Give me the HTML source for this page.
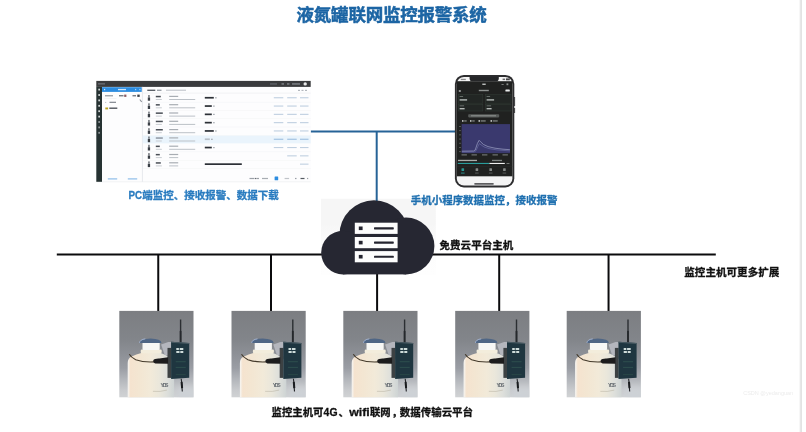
<!DOCTYPE html>
<html lang="zh-CN">
<head>
<meta charset="utf-8">
<title>液氮罐联网监控报警系统</title>
<style>
  html, body { margin: 0; padding: 0; background: #ffffff; }
  body { width: 806px; height: 432px; overflow: hidden; position: relative;
         font-family: "Liberation Sans", "Noto Sans CJK SC", sans-serif; }
  svg { position: absolute; left: 0; top: 0; display: block; }
  svg text { font-family: "Liberation Sans", "Noto Sans CJK SC", sans-serif; font-weight: bold; }
  svg .lbl { stroke-width: 0.3px; stroke-linejoin: round; }
  svg { filter: blur(0.35px); }
</style>
</head>
<body>
<svg width="806" height="432" viewBox="0 0 806 432">
  <defs>
    <linearGradient id="tankbg" x1="0" y1="0" x2="0" y2="1">
      <stop offset="0" stop-color="#7c7e82"/>
      <stop offset="0.33" stop-color="#82858a"/>
      <stop offset="0.51" stop-color="#8e9197"/>
      <stop offset="0.66" stop-color="#9a9da4"/>
      <stop offset="0.8" stop-color="#b4b7bc"/>
      <stop offset="0.915" stop-color="#c8cacd"/>
      <stop offset="1" stop-color="#d0d2d4"/>
    </linearGradient>
    <filter id="soft" x="-50%" y="-50%" width="200%" height="200%"><feGaussianBlur stdDeviation="3.2"/></filter>
    <clipPath id="tankclip"><rect x="0" y="0" width="74.2" height="86.4"/></clipPath>
    <linearGradient id="tankbody" x1="0" y1="0" x2="1" y2="0">
      <stop offset="0" stop-color="#f6f6f4"/>
      <stop offset="0.06" stop-color="#f5e3cf"/>
      <stop offset="0.25" stop-color="#f3e6d2"/>
      <stop offset="0.5" stop-color="#f2ead9"/>
      <stop offset="0.68" stop-color="#eae7db"/>
      <stop offset="0.85" stop-color="#dddfdb"/>
      <stop offset="1" stop-color="#ced4d4"/>
    </linearGradient>
    <linearGradient id="boxfade" x1="0" y1="0" x2="0" y2="1">
      <stop offset="0" stop-color="#f6f6f6"/>
      <stop offset="0.33" stop-color="#f6f6f6"/>
      <stop offset="0.58" stop-color="#fcfcfc"/>
      <stop offset="1" stop-color="#fefefe"/>
    </linearGradient>
    <linearGradient id="edgefade" x1="0" y1="0" x2="1" y2="0">
      <stop offset="0" stop-color="#ffffff"/>
      <stop offset="1" stop-color="#ececec"/>
    </linearGradient>
    <!-- liquid nitrogen tank with monitor host -->
    <g id="tank">
      <rect x="0" y="0" width="74.2" height="86.4" fill="url(#tankbg)"/>
      <g clip-path="url(#tankclip)">
        <g filter="url(#soft)" fill="#cdd1d6">
          <rect x="58" y="76" width="20" height="16"/>
        </g>
      </g>
      <!-- body -->
      <path d="M8.4 86.4 L8.4 52 Q8.4 47.4 12.4 45.6 Q17 43.4 22 42 L41.4 42 Q46 43.6 49.4 46 Q54.8 49.4 54.8 54.5 L54.8 86.4 Z" fill="url(#tankbody)"/>
      <path d="M33.6 80.4 Q41 81.2 47.6 79.2" fill="none" stroke="#b3ad9c" stroke-width="0.5"/>
      <!-- collar, cap, dome -->
      <rect x="21.4" y="38.6" width="21" height="3.8" rx="1.2" fill="#f3eddc"/>
      <rect x="23.2" y="31.2" width="17.2" height="8" rx="1" fill="#f7f7f5"/>
      <path d="M20.2 32 Q20.6 27.9 31.2 27.6 Q41.8 27.9 42.2 32 Z" fill="#4f6685"/>
      <path d="M20.2 32 Q20.7 28.6 26 28" fill="none" stroke="#a9bde0" stroke-width="0.8"/>
      <!-- bracket plate -->
      <path d="M41.8 33.6 L49 31.2 L52 31.2 L52 45 L45.4 44 Z" fill="#b4b6bd"/>
      <rect x="48.2" y="37" width="3.8" height="30" fill="#3c4143"/>
      <!-- handle + clamp -->
      <path d="M10 43.4 Q11.6 46.4 16.4 48.8 Q24 51.6 35 51" fill="none" stroke="#43392a" stroke-width="1.1"/>
      <path d="M34 49.4 Q35 47.4 40 47.6 L48.8 46.4 L48.8 52.9 L36 52.6 Q33.6 52 34 49.4 Z" fill="#1c1c1d"/>
      <!-- antenna -->
      <rect x="60.6" y="8.6" width="1.4" height="23" fill="#2b2e32"/>
      <rect x="60.4" y="20" width="1.8" height="11.5" fill="#25282c"/>
      <!-- monitor host -->
      <path d="M51.8 30.9 L69.9 32.2 L69.9 66.9 L51.8 68.2 Z" fill="#1f3640"/>
      <path d="M51.8 30.9 L69.9 32.2 L69.9 33 L51.8 31.8 Z" fill="#4b5c64"/>
      <path d="M57 37.2 h2.6 v2 h-2.6 z M60.4 37.2 h3.6 v2 h-3.6 z M57 40 h3.2 v2 h-3.2 z M61 40 h3 v2 h-3 z" fill="#cfdcda"/>
      <rect x="56.4" y="50.4" width="10" height="0.9" fill="#2f524f"/>
      <rect x="56.4" y="56" width="10" height="0.9" fill="#2f524f"/>
      <rect x="56.4" y="63.4" width="10" height="0.8" fill="#2b4a48"/>
      <!-- cable -->
      <path d="M61.9 67.8 L62.3 71 L63 80.6" fill="none" stroke="#222428" stroke-width="1.1"/>
      <path d="M62.3 71 L62.8 77.2" fill="none" stroke="#1a1c1f" stroke-width="2"/>
    </g>
  </defs>

  <rect x="0" y="0" width="806" height="432" fill="#ffffff"/>

  <!-- right page edge -->
  <rect x="798.6" y="0" width="2.2" height="432" fill="url(#edgefade)"/>
  <rect x="800.5" y="0" width="1.3" height="432" fill="#dcdcdc"/>

  <!-- pale backing of cloud picture -->
  <rect x="321" y="198.8" width="114.8" height="76.2" fill="url(#boxfade)"/>

  <!-- title -->
  <text x="391.6" y="21.2" font-size="17.5" text-anchor="middle" fill="#1c65a4" stroke="#1c65a4" stroke-width="0.5" letter-spacing="-0.22">液氮罐联网监控报警系统</text>

  <!-- blue connectors -->
  <g stroke="#266397" stroke-width="2" fill="none">
    <line x1="310.6" y1="131.4" x2="456" y2="131.4"/>
    <line x1="376.7" y1="131.2" x2="376.7" y2="203"/>
  </g>

  <!-- PC screenshot -->
  <g id="pc">
    <rect x="96.3" y="80.9" width="214.4" height="100.9" fill="#fdfdfe"/>
    <rect x="96.3" y="181.6" width="214.4" height="0.6" fill="#e9ebee"/>
    <rect x="96.3" y="80.9" width="214.4" height="6.0" fill="#3a3b3d"/>
    <rect x="96.3" y="86.9" width="5.7" height="94.9" fill="#263232"/>
    <rect x="98.0" y="83.2" width="7.0" height="1.3" fill="#6d7177"/>
    <rect x="281.5" y="83.3" width="2.5" height="1.3" fill="#84888d"/>
    <rect x="287.0" y="83.3" width="2.5" height="1.3" fill="#84888d"/>
    <rect x="292.0" y="83.3" width="8.0" height="1.3" fill="#84888d"/>
    <rect x="270.0" y="83.3" width="7.0" height="1.3" fill="#5f6369"/>
    <circle cx="305.2" cy="83.9" r="1.7" fill="#e8e8e8"/>
    <rect x="98.3" y="88.7" width="1.7" height="1.8" fill="#d2d6d6"/>
    <rect x="98.3" y="94.1" width="1.7" height="1.8" fill="#d2d6d6"/>
    <rect x="98.3" y="99.5" width="1.7" height="1.8" fill="#d2d6d6"/>
    <rect x="98.3" y="104.9" width="1.7" height="1.8" fill="#d2d6d6"/>
    <rect x="98.3" y="110.3" width="1.7" height="1.8" fill="#d2d6d6"/>
    <rect x="98.3" y="115.7" width="1.7" height="1.8" fill="#d2d6d6"/>
    <rect x="98.3" y="121.1" width="1.7" height="1.8" fill="#8f9698"/>
    <rect x="98.3" y="126.5" width="1.7" height="1.8" fill="#8f9698"/>
    <rect x="98.3" y="131.9" width="1.7" height="1.8" fill="#8f9698"/>
    <rect x="102.0" y="87.2" width="39.8" height="4.7" fill="#2b8ce0"/>
    <rect x="118.0" y="88.9" width="8.0" height="1.3" fill="#cfe6fa"/>
    <rect x="104.0" y="88.9" width="1.2" height="1.3" fill="#cfe6fa"/>
    <rect x="135.0" y="88.9" width="1.2" height="1.3" fill="#a9d2f6"/>
    <rect x="139.3" y="88.9" width="1.2" height="1.3" fill="#a9d2f6"/>
    <rect x="141.9" y="86.9" width="0.9" height="94.9" fill="#e4e7eb"/>
    <rect x="105.0" y="95.1" width="8.0" height="1.3" fill="#9a9fa6"/>
    <rect x="119.0" y="95.1" width="4.5" height="1.3" fill="#6c7178"/>
    <rect x="124.2" y="94.6" width="2.2" height="2.3" fill="#8a5a62"/>
    <rect x="132.5" y="95.1" width="3.5" height="1.3" fill="#6c7178"/>
    <rect x="137.3" y="94.6" width="2.4" height="2.3" fill="#3a3f47"/>
    <rect x="104.5" y="98.6" width="12.0" height="0.4" fill="#e3e6ea"/>
    <rect x="109.5" y="101.7" width="6.5" height="1.3" fill="#8b9097"/>
    <rect x="105.2" y="101.9" width="1.0" height="1.0" fill="#b3b8be"/>
    <rect x="105.3" y="107.5" width="2.8" height="1.9" fill="#b9a21f"/>
    <rect x="109.3" y="107.5" width="8.0" height="1.4" fill="#50555c"/>
    <rect x="140.2" y="99.2" width="1.1" height="3.0" fill="#8b9097" transform="rotate(-40 140.7 100.7)"/>
    <rect x="107.8" y="178.3" width="9.4" height="1.2" fill="#8dbde9"/>
    <rect x="127.8" y="178.3" width="9.4" height="1.2" fill="#8dbde9"/>
    <rect x="147.3" y="89.6" width="8.0" height="1.4" fill="#5b6067"/>
    <rect x="157.0" y="89.6" width="4.5" height="1.4" fill="#9aa0a7"/>
    <rect x="166.0" y="89.6" width="20.0" height="1.3" fill="#c9cdd2"/>
    <rect x="143.0" y="92.8" width="167.7" height="0.5" fill="#e6e8eb"/>
    <rect x="298.0" y="89.8" width="2.0" height="1.2" fill="#b3b8be"/>
    <rect x="301.5" y="89.8" width="2.0" height="1.2" fill="#b3b8be"/>
    <rect x="305.0" y="89.8" width="2.0" height="1.2" fill="#b3b8be"/>
    <rect x="143.0" y="101.9" width="167.7" height="0.4" fill="#eff1f3"/>
    <rect x="148.2" y="95.0" width="1.5" height="2.2" fill="#6b7077"/>
    <rect x="147.8" y="97.4" width="2.3" height="3.3" fill="#3a3f46"/>
    <rect x="155.8" y="95.8" width="5.0" height="1.5" fill="#4a4f56"/>
    <rect x="155.8" y="99.0" width="6.0" height="1.0" fill="#c8ccd1"/>
    <rect x="169.2" y="95.8" width="9.0" height="1.2" fill="#a8adb3"/>
    <rect x="169.2" y="99.0" width="26.0" height="1.0" fill="#bcc1c7"/>
    <rect x="204.8" y="96.9" width="9.0" height="1.7" fill="#2c3036"/>
    <rect x="215.2" y="97.2" width="1.4" height="1.2" fill="#9aa0a7"/>
    <rect x="273.8" y="97.2" width="9.5" height="1.1" fill="#bfcfe0"/>
    <rect x="287.2" y="97.2" width="9.5" height="1.1" fill="#bfcfe0"/>
    <rect x="300.0" y="97.2" width="8.5" height="1.1" fill="#bfcfe0"/>
    <rect x="143.0" y="110.2" width="167.7" height="0.4" fill="#eff1f3"/>
    <rect x="148.2" y="103.3" width="1.5" height="2.2" fill="#6b7077"/>
    <rect x="147.8" y="105.7" width="2.3" height="3.3" fill="#3a3f46"/>
    <rect x="155.8" y="104.1" width="4.0" height="1.5" fill="#4a4f56"/>
    <rect x="155.8" y="107.3" width="6.0" height="1.0" fill="#c8ccd1"/>
    <rect x="169.2" y="104.1" width="9.0" height="1.2" fill="#a8adb3"/>
    <rect x="169.2" y="107.3" width="26.0" height="1.0" fill="#bcc1c7"/>
    <rect x="204.8" y="105.2" width="7.0" height="1.7" fill="#2c3036"/>
    <rect x="213.2" y="105.5" width="1.4" height="1.2" fill="#9aa0a7"/>
    <rect x="273.8" y="105.5" width="9.5" height="1.1" fill="#bfcfe0"/>
    <rect x="287.2" y="105.5" width="9.5" height="1.1" fill="#bfcfe0"/>
    <rect x="300.0" y="105.5" width="8.5" height="1.1" fill="#bfcfe0"/>
    <rect x="143.0" y="118.5" width="167.7" height="0.4" fill="#eff1f3"/>
    <rect x="148.2" y="111.6" width="1.5" height="2.2" fill="#6b7077"/>
    <rect x="147.8" y="114.0" width="2.3" height="3.3" fill="#3a3f46"/>
    <rect x="155.8" y="112.4" width="7.0" height="1.5" fill="#4a4f56"/>
    <rect x="155.8" y="115.6" width="6.0" height="1.0" fill="#c8ccd1"/>
    <rect x="169.2" y="112.4" width="9.0" height="1.2" fill="#a8adb3"/>
    <rect x="169.2" y="115.6" width="26.0" height="1.0" fill="#bcc1c7"/>
    <rect x="204.8" y="113.5" width="7.0" height="1.7" fill="#2c3036"/>
    <rect x="213.2" y="113.8" width="1.4" height="1.2" fill="#9aa0a7"/>
    <rect x="273.8" y="113.8" width="9.5" height="1.1" fill="#bfcfe0"/>
    <rect x="287.2" y="113.8" width="9.5" height="1.1" fill="#bfcfe0"/>
    <rect x="300.0" y="113.8" width="8.5" height="1.1" fill="#bfcfe0"/>
    <rect x="143.0" y="126.8" width="167.7" height="0.4" fill="#eff1f3"/>
    <rect x="148.2" y="119.9" width="1.5" height="2.2" fill="#6b7077"/>
    <rect x="147.8" y="122.3" width="2.3" height="3.3" fill="#3a3f46"/>
    <rect x="155.8" y="120.7" width="7.0" height="1.5" fill="#4a4f56"/>
    <rect x="155.8" y="123.9" width="6.0" height="1.0" fill="#c8ccd1"/>
    <rect x="169.2" y="120.7" width="9.0" height="1.2" fill="#a8adb3"/>
    <rect x="169.2" y="123.9" width="26.0" height="1.0" fill="#bcc1c7"/>
    <rect x="204.8" y="121.8" width="7.0" height="1.7" fill="#2c3036"/>
    <rect x="213.2" y="122.1" width="1.4" height="1.2" fill="#9aa0a7"/>
    <rect x="273.8" y="122.1" width="9.5" height="1.1" fill="#bfcfe0"/>
    <rect x="287.2" y="122.1" width="9.5" height="1.1" fill="#bfcfe0"/>
    <rect x="300.0" y="122.1" width="8.5" height="1.1" fill="#bfcfe0"/>
    <rect x="143.0" y="135.1" width="167.7" height="0.4" fill="#eff1f3"/>
    <rect x="148.2" y="128.2" width="1.5" height="2.2" fill="#6b7077"/>
    <rect x="147.8" y="130.6" width="2.3" height="3.3" fill="#3a3f46"/>
    <rect x="155.8" y="129.0" width="7.0" height="1.5" fill="#4a4f56"/>
    <rect x="155.8" y="132.2" width="6.0" height="1.0" fill="#c8ccd1"/>
    <rect x="169.2" y="129.0" width="9.0" height="1.2" fill="#a8adb3"/>
    <rect x="169.2" y="132.2" width="26.0" height="1.0" fill="#bcc1c7"/>
    <rect x="204.8" y="130.1" width="9.0" height="1.7" fill="#2c3036"/>
    <rect x="215.2" y="130.4" width="1.4" height="1.2" fill="#9aa0a7"/>
    <rect x="273.8" y="130.4" width="9.5" height="1.1" fill="#bfcfe0"/>
    <rect x="287.2" y="130.4" width="9.5" height="1.1" fill="#bfcfe0"/>
    <rect x="300.0" y="130.4" width="8.5" height="1.1" fill="#bfcfe0"/>
    <rect x="142.8" y="135.6" width="167.9" height="7.8" fill="#eaf4fc"/>
    <rect x="148.2" y="136.5" width="1.5" height="2.2" fill="#6b7077"/>
    <rect x="147.8" y="138.9" width="2.3" height="3.3" fill="#3a3f46"/>
    <rect x="155.8" y="137.3" width="7.0" height="1.5" fill="#8f98a3"/>
    <rect x="155.8" y="140.5" width="6.0" height="1.0" fill="#c8ccd1"/>
    <rect x="169.2" y="137.3" width="9.0" height="1.2" fill="#a8adb3"/>
    <rect x="169.2" y="140.5" width="26.0" height="1.0" fill="#bcc1c7"/>
    <rect x="204.8" y="138.4" width="5.0" height="1.7" fill="#b9c0c8"/>
    <rect x="211.2" y="138.7" width="1.4" height="1.2" fill="#9aa0a7"/>
    <rect x="273.8" y="138.7" width="9.5" height="1.1" fill="#9dbfdf"/>
    <rect x="287.2" y="138.7" width="9.5" height="1.1" fill="#9dbfdf"/>
    <rect x="300.0" y="138.7" width="8.5" height="1.1" fill="#9dbfdf"/>
    <rect x="143.0" y="151.7" width="167.7" height="0.4" fill="#eff1f3"/>
    <rect x="148.2" y="144.8" width="1.5" height="2.2" fill="#6b7077"/>
    <rect x="147.8" y="147.2" width="2.3" height="3.3" fill="#3a3f46"/>
    <rect x="155.8" y="145.6" width="4.0" height="1.5" fill="#4a4f56"/>
    <rect x="155.8" y="148.8" width="6.0" height="1.0" fill="#c8ccd1"/>
    <rect x="169.2" y="145.6" width="9.0" height="1.2" fill="#a8adb3"/>
    <rect x="169.2" y="148.8" width="26.0" height="1.0" fill="#bcc1c7"/>
    <rect x="204.8" y="146.7" width="7.0" height="1.7" fill="#2c3036"/>
    <rect x="213.2" y="147.0" width="1.4" height="1.2" fill="#9aa0a7"/>
    <rect x="273.8" y="147.0" width="9.5" height="1.1" fill="#bfcfe0"/>
    <rect x="287.2" y="147.0" width="9.5" height="1.1" fill="#bfcfe0"/>
    <rect x="300.0" y="147.0" width="8.5" height="1.1" fill="#bfcfe0"/>
    <rect x="143.0" y="160.0" width="167.7" height="0.4" fill="#eff1f3"/>
    <rect x="148.2" y="153.1" width="1.5" height="2.2" fill="#6b7077"/>
    <rect x="147.8" y="155.5" width="2.3" height="3.3" fill="#3a3f46"/>
    <rect x="155.8" y="153.9" width="4.0" height="1.5" fill="#4a4f56"/>
    <rect x="155.8" y="157.1" width="6.0" height="1.0" fill="#c8ccd1"/>
    <rect x="169.2" y="153.9" width="9.0" height="1.2" fill="#a8adb3"/>
    <rect x="169.2" y="157.1" width="9.0" height="1.0" fill="#bcc1c7"/>
    <rect x="287.2" y="155.3" width="9.5" height="1.1" fill="#bfcfe0"/>
    <rect x="300.0" y="155.3" width="8.5" height="1.1" fill="#bfcfe0"/>
    <rect x="143.0" y="168.3" width="167.7" height="0.4" fill="#eff1f3"/>
    <rect x="148.2" y="161.4" width="1.5" height="2.2" fill="#6b7077"/>
    <rect x="147.8" y="163.8" width="2.3" height="3.3" fill="#3a3f46"/>
    <rect x="155.8" y="162.2" width="5.0" height="1.5" fill="#4a4f56"/>
    <rect x="155.8" y="165.4" width="6.0" height="1.0" fill="#c8ccd1"/>
    <rect x="169.2" y="162.2" width="9.0" height="1.2" fill="#a8adb3"/>
    <rect x="169.2" y="165.4" width="9.0" height="1.0" fill="#bcc1c7"/>
    <rect x="204.8" y="163.3" width="37.0" height="1.7" fill="#2c3036"/>
    <rect x="300.0" y="163.6" width="8.5" height="1.1" fill="#bfcfe0"/>
    <rect x="249.5" y="177.9" width="5.0" height="1.2" fill="#9aa0a7"/>
    <rect x="255.2" y="177.9" width="1.2" height="1.2" fill="#444950"/>
    <rect x="257.0" y="177.9" width="2.0" height="1.2" fill="#9aa0a7"/>
    <rect x="262.0" y="177.9" width="6.0" height="1.2" fill="#a8adb3"/>
    <rect x="284.6" y="177.9" width="4.5" height="1.2" fill="#c0c4c9"/>
    <rect x="295.0" y="177.9" width="1.5" height="1.2" fill="#9aa0a7"/>
    <rect x="300.5" y="177.9" width="4.0" height="1.2" fill="#555a61"/>
    <rect x="307.0" y="177.9" width="1.2" height="1.2" fill="#9aa0a7"/>
    <rect x="274.6" y="176.5" width="3.6" height="3.8" fill="#2d8de0" rx="0.6"/>
  </g>
  <text y="199.3" class="lbl" font-size="10" fill="#2a7cc0" stroke="#2a7cc0"><tspan x="128.6" font-size="10.8" textLength="13.6" lengthAdjust="spacingAndGlyphs">PC</tspan><tspan x="142.3" textLength="136.4" lengthAdjust="spacingAndGlyphs">端监控、接收报警、数据下载</tspan></text>

  <!-- phone -->
  <g id="phone">
    <rect x="454.9" y="74.9" width="59.4" height="112.6" rx="9" ry="9" fill="#2d2d2f"/>
    <rect x="514.1" y="97" width="1.0" height="9" fill="#3a3a3c"/>
    <rect x="514.1" y="108" width="1.0" height="5" fill="#3a3a3c"/>
    <rect x="456.8" y="76.9" width="55.6" height="108.7" rx="7.2" ry="7.2" fill="#f4f4f4"/>
    <rect x="456.8" y="81.2" width="55.6" height="95.1" fill="#202120"/>
    <path d="M469.6 76.8 L498.8 76.8 L498.8 78.4 Q498.8 81.3 495.6 81.3 L472.8 81.3 Q469.6 81.3 469.6 78.4 Z" fill="#262729"/>
    <rect x="460.8" y="78.8" width="5.0" height="1.3" fill="#8a8a8c"/>
    <rect x="502.6" y="78.6" width="2.5" height="1.5" fill="#6a6a6c"/>
    <rect x="506.0" y="78.4" width="3.8" height="1.9" fill="#454547"/>
    <rect x="482.3" y="83.6" width="3.4" height="1.3" fill="#c9cccb"/>
    <rect x="501.5" y="84.0" width="2.2" height="0.8" fill="#8d918f"/>
    <rect x="506.5" y="83.4" width="1.8" height="1.8" fill="#8d918f"/>
    <rect x="458.8" y="90.2" width="2.0" height="1.6" fill="#aeb2b0"/>
    <rect x="478.8" y="89.8" width="10.0" height="1.4" fill="#8d918f"/>
    <rect x="505.4" y="89.4" width="4.4" height="2.2" fill="#e9eceb" rx="0.6"/>
    <rect x="458.4" y="94.6" width="24.4" height="8.6" fill="#222624" stroke="#323d37" stroke-width="0.5"/>
    <rect x="485.4" y="94.6" width="25.6" height="8.6" fill="#222624" stroke="#323d37" stroke-width="0.5"/>
    <rect x="458.4" y="104.4" width="24.4" height="6.6" fill="#222624" stroke="#323d37" stroke-width="0.5"/>
    <rect x="485.4" y="104.4" width="25.6" height="6.6" fill="#222624" stroke="#323d37" stroke-width="0.5"/>
    <rect x="459.6" y="96.0" width="3.5" height="0.9" fill="#6f7572"/>
    <rect x="459.6" y="99.2" width="7.5" height="1.4" fill="#b4b9b6"/>
    <rect x="459.6" y="105.4" width="4.5" height="0.9" fill="#6f7572"/>
    <rect x="459.6" y="108.0" width="5.0" height="1.4" fill="#b4b9b6"/>
    <rect x="486.6" y="96.0" width="3.5" height="0.9" fill="#6f7572"/>
    <rect x="486.6" y="99.2" width="7.5" height="1.4" fill="#b4b9b6"/>
    <rect x="486.6" y="105.4" width="4.5" height="0.9" fill="#6f7572"/>
    <rect x="486.6" y="108.0" width="5.0" height="1.4" fill="#b4b9b6"/>
    <rect x="468.2" y="114.2" width="31.0" height="3.2" fill="#585c5a" rx="0.8"/>
    <rect x="471.0" y="115.3" width="25.0" height="1.0" fill="#8f9391"/>
    <rect x="462.0" y="120.2" width="1.5" height="1.5" fill="#d7dad9"/>
    <rect x="464.2" y="120.4" width="2.5" height="1.1" fill="#8f9391"/>
    <rect x="470.0" y="120.2" width="1.5" height="1.5" fill="#d7dad9"/>
    <rect x="472.2" y="120.4" width="2.5" height="1.1" fill="#8f9391"/>
    <rect x="478.5" y="120.2" width="1.5" height="1.5" fill="#d7dad9"/>
    <rect x="480.7" y="120.4" width="5.0" height="1.1" fill="#8f9391"/>
    <rect x="490.5" y="120.2" width="1.5" height="1.5" fill="#d7dad9"/>
    <rect x="492.7" y="120.4" width="5.0" height="1.1" fill="#8f9391"/>
    <rect x="461.6" y="124.1" width="48.4" height="29.1" fill="#3a396e"/>
    <rect x="459.3" y="126.0" width="1.4" height="0.9" fill="#6f7572"/>
    <rect x="459.3" y="130.2" width="1.4" height="0.9" fill="#6f7572"/>
    <rect x="459.3" y="134.4" width="1.4" height="0.9" fill="#6f7572"/>
    <rect x="459.3" y="138.6" width="1.4" height="0.9" fill="#6f7572"/>
    <rect x="459.3" y="142.8" width="1.4" height="0.9" fill="#6f7572"/>
    <rect x="459.3" y="147.0" width="1.4" height="0.9" fill="#6f7572"/>
    <rect x="459.3" y="151.2" width="1.4" height="0.9" fill="#6f7572"/>
    <path d="M461.8 151.2 L473.6 151 L475.2 150 L477.4 143.5 L479.1 140.3 L480.6 141.8 L483.5 144.5 L488 146.6 L495 148.2 L503 149.2 L509.9 149.7" fill="none" stroke="#9ea2c6" stroke-width="0.7"/>
    <path d="M461.8 152 L474.2 151.9 L476 150.8 L478 146.2 L479.4 143.6 L481 144.8 L484 146.9 L489 148.6 L497 149.9 L509.9 150.9" fill="none" stroke="#7a7eb4" stroke-width="0.5"/>
    <rect x="461.5" y="154.4" width="5.4" height="1.0" fill="#7f8482"/>
    <rect x="471.5" y="154.4" width="5.4" height="1.0" fill="#7f8482"/>
    <rect x="482.0" y="154.4" width="5.4" height="1.0" fill="#7f8482"/>
    <rect x="492.5" y="154.4" width="5.4" height="1.0" fill="#7f8482"/>
    <rect x="502.5" y="154.4" width="5.4" height="1.0" fill="#7f8482"/>
    <rect x="458.0" y="159.8" width="19.0" height="1.3" fill="#a9adab"/>
    <rect x="492.0" y="159.8" width="10.0" height="1.3" fill="#7f8482"/>
    <rect x="457.8" y="162.9" width="31.6" height="1.1" fill="#2a9c9b"/>
    <rect x="489.4" y="162.9" width="15.4" height="1.1" fill="#f0f0f0"/>
    <rect x="506.5" y="163.0" width="3.0" height="0.9" fill="#7f8482"/>
    <rect x="456.8" y="166.0" width="55.6" height="0.4" fill="#2c322f"/>
    <rect x="461.5" y="168.3" width="2.6" height="2.6" fill="#2a9794" rx="0.5"/>
    <rect x="461.0" y="172.6" width="3.6" height="0.9" fill="#2a9794"/>
    <rect x="475.6" y="168.3" width="2.6" height="2.6" fill="#858987" rx="0.5"/>
    <rect x="475.1" y="172.6" width="3.6" height="0.9" fill="#5a5f5d"/>
    <rect x="489.4" y="168.3" width="2.6" height="2.6" fill="#858987" rx="0.5"/>
    <rect x="488.9" y="172.6" width="3.6" height="0.9" fill="#5a5f5d"/>
    <rect x="503.1" y="168.3" width="2.6" height="2.6" fill="#858987" rx="0.5"/>
    <rect x="502.6" y="172.6" width="3.6" height="0.9" fill="#5a5f5d"/>
    <rect x="474.2" y="183.1" width="19.6" height="1.6" fill="#5e5e60" rx="0.8"/>
  </g>
  <text x="410.7" y="203.6" class="lbl" font-size="10.5" fill="#1f70b0" stroke="#1f70b0" textLength="146.8" lengthAdjust="spacingAndGlyphs">手机小程序数据监控，接收报警</text>

  <!-- black bus lines -->
  <g stroke="#0b0b0d" stroke-width="2" fill="none">
    <line x1="56.8" y1="254.45" x2="715.8" y2="254.45"/>
    <line x1="158.25" y1="254" x2="158.25" y2="311.5"/>
    <line x1="271" y1="254" x2="271" y2="311.5"/>
    <line x1="377.1" y1="270" x2="377.1" y2="311.5"/>
    <line x1="499.2" y1="254" x2="499.2" y2="311.5"/>
    <line x1="608.55" y1="254" x2="608.55" y2="311.5"/>
  </g>

  <!-- cloud host -->
  <g id="cloud">
    <g fill="#262732">
      <circle cx="374" cy="234.9" r="34.6"/>
      <circle cx="343" cy="252.6" r="21.8"/>
      <circle cx="406" cy="246" r="28.4"/>
      <rect x="343" y="250" width="63" height="24.4"/>
    </g>
    <g fill="#fdfdfd">
      <rect x="354.8" y="222.7" width="42.8" height="11.2"/>
      <rect x="354.8" y="237.0" width="42.8" height="11.2"/>
      <rect x="354.8" y="251.1" width="42.8" height="11.2"/>
    </g>
    <g fill="#24242f">
      <rect x="358.8" y="226.50" width="3.8" height="3.6"/>
      <rect x="358.8" y="240.80" width="3.8" height="3.6"/>
      <rect x="358.8" y="254.90" width="3.8" height="3.6"/>
      <rect x="374" y="227.30" width="19.8" height="2.1" rx="0.6"/>
      <rect x="374" y="241.60" width="19.8" height="2.1" rx="0.6"/>
      <rect x="374" y="255.70" width="19.8" height="2.1" rx="0.6"/>
    </g>
  </g>
  <text x="439.6" y="249.3" class="lbl" font-size="10.5" fill="#111111" stroke="#111111" textLength="73.6" lengthAdjust="spacingAndGlyphs">免费云平台主机</text>
  <text x="684.3" y="276.3" class="lbl" font-size="10.5" fill="#111111" stroke="#111111" textLength="95" lengthAdjust="spacingAndGlyphs">监控主机可更多扩展</text>

  <!-- tanks -->
  <use href="#tank" x="119.3" y="310.9"/>
  <use href="#tank" x="231.5" y="310.9"/>
  <use href="#tank" x="343.3" y="310.9"/>
  <use href="#tank" x="455.2" y="310.9"/>
  <use href="#tank" x="566.7" y="310.9"/>

  <g font-size="5.2" fill="#646a70" style="font-weight:bold">
    <text x="160.5" y="387" textLength="8">YDS</text>
    <text x="272.7" y="387" textLength="8">YDS</text>
    <text x="384.5" y="387" textLength="8">YDS</text>
    <text x="496.4" y="387" textLength="8">YDS</text>
    <text x="607.9" y="387" textLength="8">YDS</text>
  </g>

  <text y="416.2" class="lbl" font-size="10.5" fill="#111111" stroke="#111111"><tspan x="271.5" textLength="52" lengthAdjust="spacingAndGlyphs">监控主机可</tspan><tspan x="323.6" font-size="11.2" textLength="13.9" lengthAdjust="spacingAndGlyphs">4G</tspan><tspan x="338.4">、</tspan><tspan x="349.2" font-size="11.2" textLength="20.6" lengthAdjust="spacingAndGlyphs">wifi</tspan><tspan x="369.9" textLength="20.8" lengthAdjust="spacingAndGlyphs">联网</tspan><tspan x="391.8">，</tspan><tspan x="399.8" textLength="73.2" lengthAdjust="spacingAndGlyphs">数据传输云平台</tspan></text>

  <!-- watermark -->
  <text x="743.2" y="395.2" font-size="6.2" fill="#ececec" style="font-weight:normal" textLength="50" lengthAdjust="spacingAndGlyphs">CSDN @yedanguan</text>
</svg>
</body>
</html>
